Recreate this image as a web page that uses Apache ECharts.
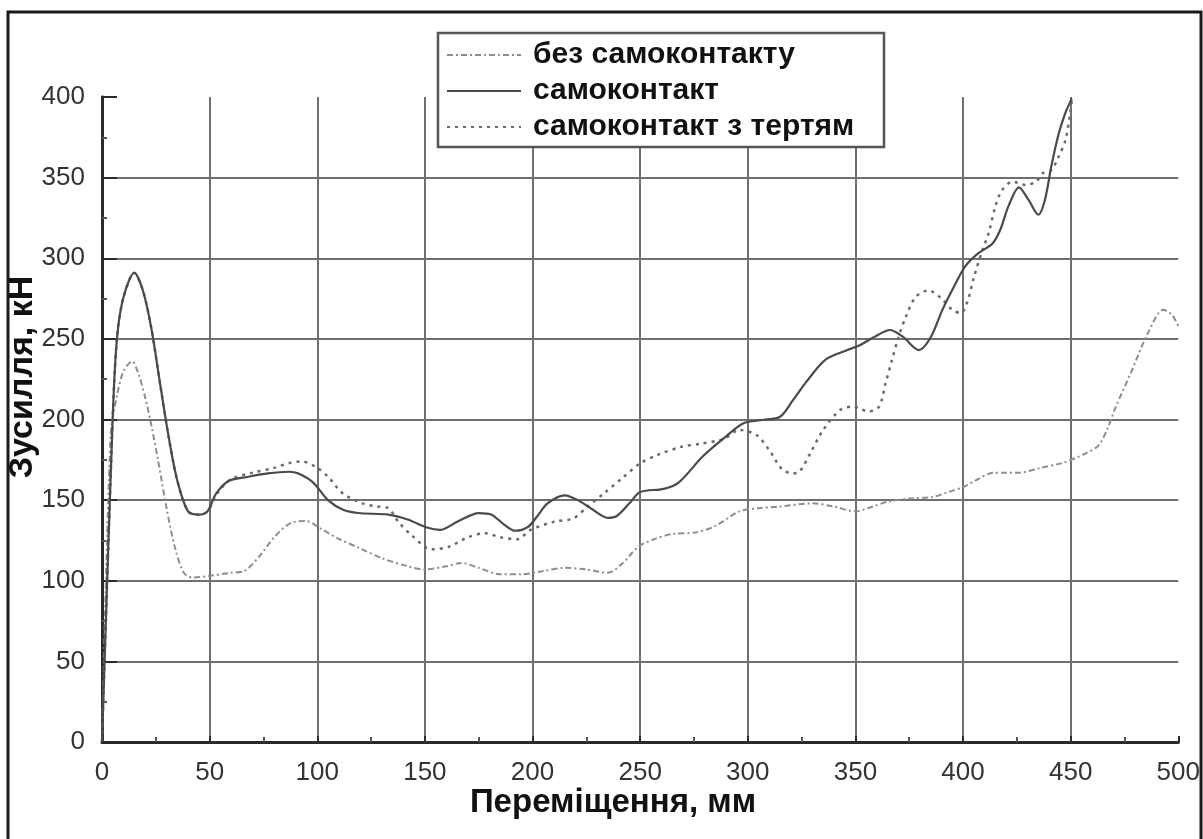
<!DOCTYPE html>
<html>
<head>
<meta charset="utf-8">
<script src="https://cdn.jsdelivr.net/npm/echarts@6/dist/echarts.min.js"></script>
<style>
  html, body { margin: 0; padding: 0; background: #fff; }
  #chart { width: 1203px; height: 839px; }
</style>
</head>
<body>
<div id="chart"></div>
<script>
// Displacement (mm) and force (kN) for the three contact models
const seriesNames = ['без самоконтакту', 'самоконтакт', 'самоконтакт з тертям'];

const noContactX = [0, 4, 7, 10, 14, 17, 20, 23, 26, 30, 34, 38, 42, 50, 60, 66, 73, 80, 88, 95, 102, 110, 120, 130, 142, 150, 160, 167, 175, 185, 195, 205, 215, 225, 235, 242, 249, 257, 265, 276, 285, 296, 305, 315, 330, 340, 350, 358, 365, 375, 386, 393, 400, 407, 414, 420, 426, 436, 446, 452, 457, 463, 467, 471, 478, 486, 493, 497, 500];
const noContactY = [0, 190, 215, 230, 236, 228, 214, 196, 175, 145, 120, 105, 102, 103, 105, 106, 115, 127, 136, 137, 132, 126, 120, 114, 109, 107, 109, 111, 108, 104, 104, 106, 108, 107, 105, 111, 121, 126, 129, 130, 134, 143, 145, 146, 148, 146, 143, 146, 149, 151, 152, 155, 158, 163, 167, 167, 167, 170, 173, 176, 179, 184, 194, 208, 229, 254, 268, 265, 258];

const contactX = [0, 5, 7, 10, 15, 19, 23, 27, 31, 35, 40, 45, 49, 53, 59, 68, 77, 87, 91, 98, 105, 112, 119, 133, 142, 151, 157, 165, 175, 181, 187, 192, 198, 202, 207, 215, 221, 227, 235, 239, 245, 250, 261, 268, 279, 289, 298, 307, 315, 321, 327, 336, 346, 352, 359, 366, 372, 379.5, 385, 390.4, 396.6, 401, 407, 413.6, 417.4, 421, 426, 430.5, 435, 438, 441, 444.4, 447.5, 450.5];
const contactY = [0, 202, 251, 276, 291, 280, 256, 222, 189, 162, 143, 141, 143, 154, 162, 164.5, 166.6, 167.6, 166.6, 161, 150, 144, 142, 141, 138, 133, 131.5, 136.6, 142, 141, 134.6, 131, 133.5, 139.7, 148, 153, 150, 145, 139, 140, 148, 155, 157, 161, 177, 188.5, 197.7, 199.7, 201.7, 212, 223, 237, 243, 246, 251.4, 255.5, 251.4, 243, 251, 268, 284.5, 295, 303, 309, 318, 332, 344, 336, 327, 336, 357, 377, 390, 399];

const frictionX = [0, 5, 7, 10, 15, 19, 23, 27, 31, 35, 40, 45, 49, 54, 60, 70, 80, 87, 93, 100, 105, 112, 121, 128, 133, 138, 144, 153, 161, 170, 178, 185, 193, 199, 210, 219, 225.5, 233, 242, 250, 258, 269, 278, 289, 296, 304, 310, 316, 321, 324, 329, 335, 343, 349, 356, 361, 364, 367, 370, 373.5, 378, 384, 390, 395, 399, 402, 405, 409, 412, 415, 418, 423, 429, 434, 437, 441, 444.4, 447.5, 449.8, 450.5];
const frictionY = [0, 202, 251, 276, 291, 280, 256, 222, 189, 162, 143, 141, 143, 155, 163, 167, 170, 173, 174, 170, 164.5, 154, 148, 146, 145, 136, 128, 119.5, 121, 127, 129.4, 127, 125.7, 131.5, 136.6, 138.7, 146, 154, 164, 172.8, 178, 183, 185, 188, 193.5, 190.4, 181, 169, 166.6, 167.6, 179, 193.5, 206, 208, 205, 208, 222.5, 237, 251, 264, 276, 280, 275, 268, 266, 273, 288, 305, 316, 332, 342, 347.5, 345.5, 347.5, 352.7, 354.7, 363, 373, 390, 398];

// Axis ranges and tick steps
const xRange = [0, 500];
const xStep = 50;
const yRange = [0, 400];
const yStep = 50;

const pairs = (xs, ys) => xs.map((x, i) => [x, ys[i]]);

const FONT = '"Liberation Sans", Arial, Helvetica, sans-serif';
const gridColor = '#707070';
const axisColor = '#2a2a2a';

const chart = echarts.init(document.getElementById('chart'), null, { renderer: 'canvas' });

chart.setOption({
  backgroundColor: '#ffffff',
  animation: false,
  grid: { left: 102, right: 19, top: 97, bottom: 97, containLabel: false },
  xAxis: {
    type: 'value',
    min: xRange[0], max: xRange[1], interval: xStep,
    axisLine: { show: true, onZero: false, lineStyle: { color: axisColor, width: 3 } },
    axisTick: { show: true, inside: true, length: 6, lineStyle: { color: axisColor, width: 2 } },
    minorTick: { show: true, splitNumber: 2, length: 5, lineStyle: { color: '#555', width: 2 } },
    splitLine: { show: true, showMinLine: false, showMaxLine: false, lineStyle: { color: gridColor, width: 2 } },
    axisLabel: { color: '#333', fontFamily: FONT, fontSize: 26, margin: 18 }
  },
  yAxis: [{
    type: 'value',
    min: yRange[0], max: yRange[1], interval: yStep,
    axisLine: { show: true, onZero: false, lineStyle: { color: axisColor, width: 3 } },
    axisTick: { show: true, inside: true, length: 15, lineStyle: { color: axisColor, width: 2 } },
    minorTick: { show: true, splitNumber: 2, length: 5, lineStyle: { color: '#555', width: 2 } },
    splitLine: { show: true, showMinLine: false, showMaxLine: false, lineStyle: { color: gridColor, width: 2 } },
    axisLabel: { color: '#333', fontFamily: FONT, fontSize: 26, margin: 17 }
  }, {
    type: 'value',
    position: 'right',
    min: yRange[0], max: yRange[1], interval: yStep,
    axisLine: { show: true, lineStyle: { color: axisColor, width: 3 } },
    axisTick: { show: false },
    axisLabel: { show: false },
    splitLine: { show: false }
  }],
  legend: {
    orient: 'vertical',
    left: 446,
    top: 40,
    z: 10,
    itemWidth: 74,
    itemHeight: 14,
    itemGap: 6,
    padding: 0,
    data: seriesNames,
    itemStyle: { color: 'transparent', borderWidth: 0 },
    textStyle: { color: '#111', fontFamily: FONT, fontSize: 30, fontWeight: 'bold', lineHeight: 30, padding: [0, 0, 0, 7] }
  },
  graphic: [
    {
      type: 'rect', z: 5,
      shape: { x: 438, y: 33, width: 446, height: 114 },
      style: { fill: '#fff', stroke: '#555', lineWidth: 2.5 }
    },
    {
      type: 'polyline', z: 20,
      shape: { points: [[8, 839], [8, 12], [1201, 12], [1201, 839]] },
      style: { fill: null, stroke: '#1a1a1a', lineWidth: 3 }
    },
    {
      type: 'text', z: 20,
      x: 23, y: 377, rotation: Math.PI / 2,
      style: {
        text: 'Зусилля, кН', fill: '#111',
        font: 'bold 34px ' + FONT,
        align: 'center', verticalAlign: 'middle'
      }
    },
    {
      type: 'text', z: 20,
      x: 613, y: 803,
      style: {
        text: 'Переміщення, мм', fill: '#111',
        font: 'bold 33px ' + FONT,
        align: 'center', verticalAlign: 'middle'
      }
    }
  ],
  series: [
    {
      name: seriesNames[0], type: 'line', smooth: 0.3, symbol: 'none',
      data: pairs(noContactX, noContactY),
      lineStyle: { color: '#8e8e8e', width: 2, type: [6, 3, 2, 3] },
      itemStyle: { color: '#8e8e8e' }, z: 3
    },
    {
      name: seriesNames[1], type: 'line', smooth: 0.3, symbol: 'none',
      data: pairs(contactX, contactY),
      lineStyle: { color: '#4a4a4a', width: 2.2 },
      itemStyle: { color: '#4a4a4a' }, z: 4
    },
    {
      name: seriesNames[2], type: 'line', smooth: 0.3, symbol: 'none',
      data: pairs(frictionX, frictionY),
      lineStyle: { color: '#6a6a6a', width: 2.5, type: [3, 5] },
      itemStyle: { color: '#6a6a6a' }, z: 3
    }
  ]
});
</script>
</body>
</html>
